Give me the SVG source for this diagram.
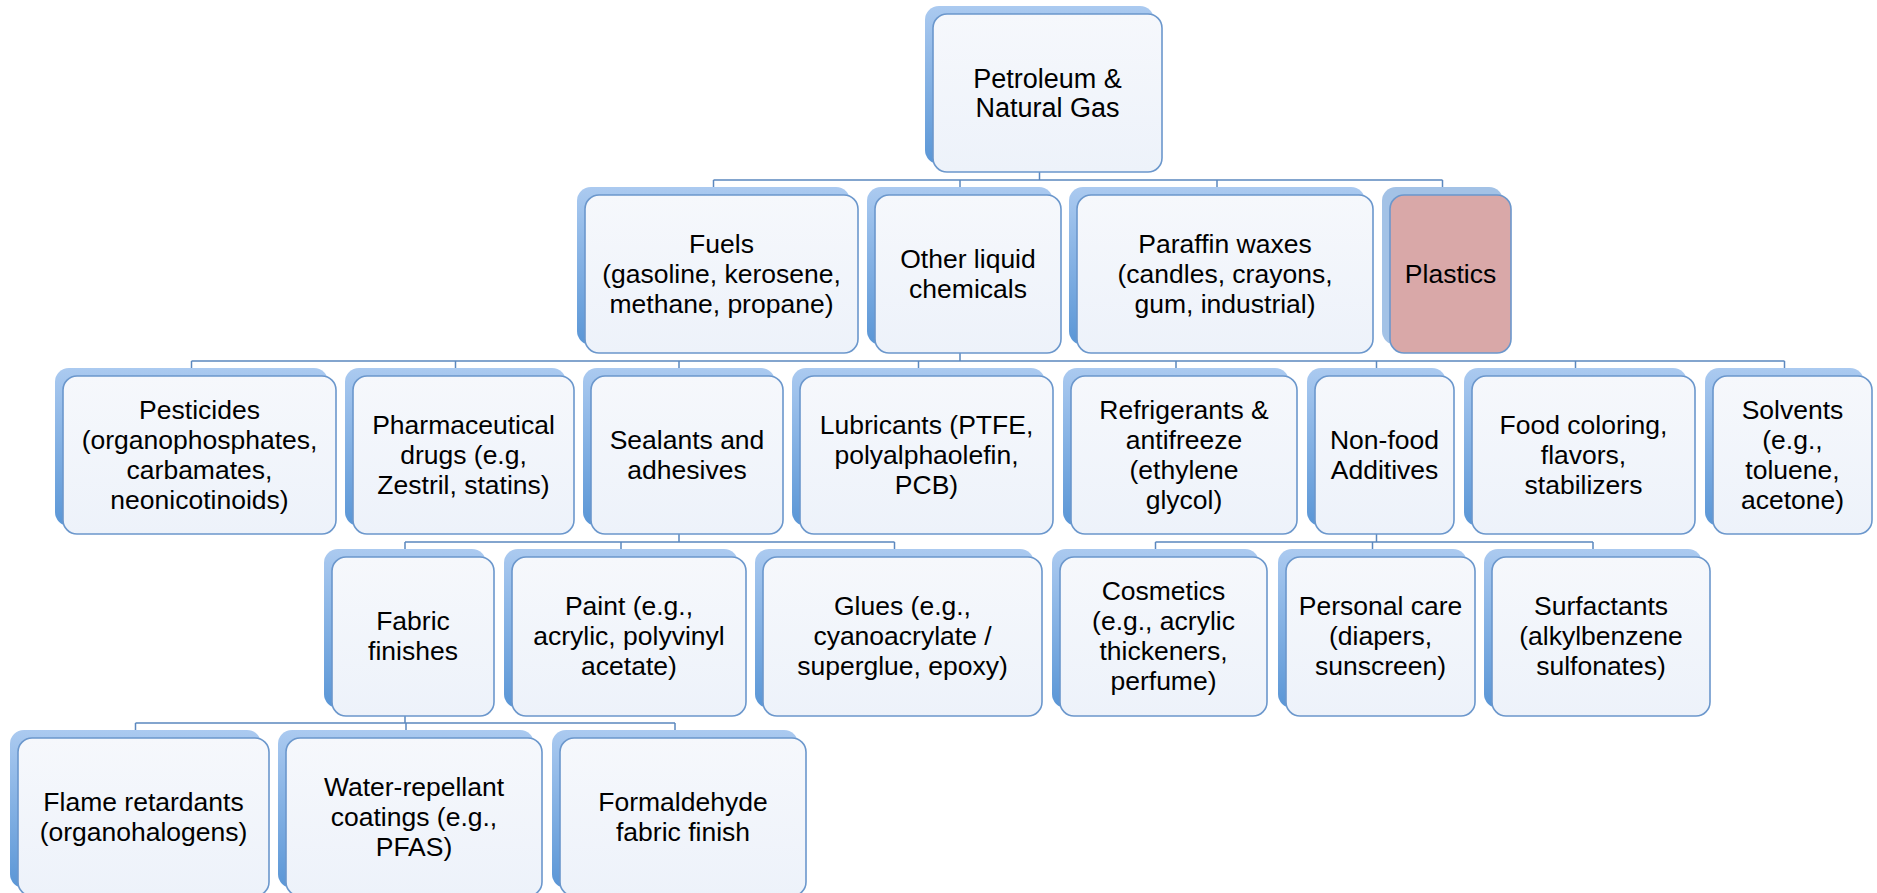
<svg xmlns="http://www.w3.org/2000/svg" width="1877" height="893" viewBox="0 0 1877 893">
<defs>
<linearGradient id="back" x1="0" y1="0" x2="0" y2="1">
<stop offset="0" stop-color="#abcaf0"/>
<stop offset="1" stop-color="#5a96d6"/>
</linearGradient>
<linearGradient id="front" x1="0" y1="0" x2="0" y2="1">
<stop offset="0" stop-color="#f6f8fc"/>
<stop offset="1" stop-color="#edf2fa"/>
</linearGradient>
<style>
.bk{fill:url(#back);}
.fr{fill:url(#front);stroke:#6b97cc;stroke-width:1.6;}
.pl{fill:#d9a8a8;stroke:#6b97cc;stroke-width:1.6;}
.bkp{fill:#a3c2e6;}
.t{font-family:"Liberation Sans",Arial,sans-serif;font-size:26.5px;fill:#000;text-anchor:middle;}
.tr{font-size:27px;}
.c{fill:none;stroke:#5b88bf;stroke-width:1.5;}
</style>
</defs>
<rect width="1877" height="893" fill="#ffffff"/>
<g id="connectors">
<path class="c" d="M1039.5,172V180M713.5,180H1442.5M713.5,180V187M960,180V187M1217,180V187M1442.5,180V187"/>
<path class="c" d="M960,353V361M191.5,361H1784.5M191.5,361V368M455.5,361V368M679,361V368M918.5,361V368M1176,361V368M1376.5,361V368M1575.5,361V368M1784.5,361V368"/>
<path class="c" d="M679,534V542M405,542H894.5M405,542V549M621,542V549M894.5,542V549"/>
<path class="c" d="M1376.5,534V542M1155.5,542H1593M1155.5,542V549M1372.5,542V549M1593,542V549"/>
<path class="c" d="M405,716V723M135.5,723H675M135.5,723V730M406,723V730M675,723V730"/>
</g>
<g id="root">
<rect class="bk" x="925" y="6" width="229" height="158" rx="14"/>
<rect class="fr" x="933" y="14" width="229" height="158" rx="14"/>
<text class="t tr"><tspan x="1047.5" y="88">Petroleum &amp;</tspan><tspan x="1047.5" y="117">Natural Gas</tspan></text>
</g>
<g id="fuels">
<rect class="bk" x="577" y="187" width="273" height="158" rx="14"/>
<rect class="fr" x="585" y="195" width="273" height="158" rx="14"/>
<text class="t"><tspan x="721.5" y="253">Fuels</tspan><tspan x="721.5" y="283">(gasoline, kerosene,</tspan><tspan x="721.5" y="313">methane, propane)</tspan></text>
</g>
<g id="other-liquid">
<rect class="bk" x="867" y="187" width="186" height="158" rx="14"/>
<rect class="fr" x="875" y="195" width="186" height="158" rx="14"/>
<text class="t"><tspan x="968" y="268">Other liquid</tspan><tspan x="968" y="298">chemicals</tspan></text>
</g>
<g id="paraffin">
<rect class="bk" x="1069" y="187" width="296" height="158" rx="14"/>
<rect class="fr" x="1077" y="195" width="296" height="158" rx="14"/>
<text class="t"><tspan x="1225" y="253">Paraffin waxes</tspan><tspan x="1225" y="283">(candles, crayons,</tspan><tspan x="1225" y="313">gum, industrial)</tspan></text>
</g>
<g id="plastics">
<rect class="bkp" x="1382" y="187" width="121" height="158" rx="14"/>
<rect class="pl" x="1390" y="195" width="121" height="158" rx="14"/>
<text class="t"><tspan x="1450.5" y="283">Plastics</tspan></text>
</g>
<g id="pesticides">
<rect class="bk" x="55" y="368" width="273" height="158" rx="14"/>
<rect class="fr" x="63" y="376" width="273" height="158" rx="14"/>
<text class="t"><tspan x="199.5" y="419">Pesticides</tspan><tspan x="199.5" y="449">(organophosphates,</tspan><tspan x="199.5" y="479">carbamates,</tspan><tspan x="199.5" y="509">neonicotinoids)</tspan></text>
</g>
<g id="pharma">
<rect class="bk" x="345" y="368" width="221" height="158" rx="14"/>
<rect class="fr" x="353" y="376" width="221" height="158" rx="14"/>
<text class="t"><tspan x="463.5" y="434">Pharmaceutical</tspan><tspan x="463.5" y="464">drugs (e.g,</tspan><tspan x="463.5" y="494">Zestril, statins)</tspan></text>
</g>
<g id="sealants">
<rect class="bk" x="583" y="368" width="192" height="158" rx="14"/>
<rect class="fr" x="591" y="376" width="192" height="158" rx="14"/>
<text class="t"><tspan x="687" y="449">Sealants and</tspan><tspan x="687" y="479">adhesives</tspan></text>
</g>
<g id="lubricants">
<rect class="bk" x="792" y="368" width="253" height="158" rx="14"/>
<rect class="fr" x="800" y="376" width="253" height="158" rx="14"/>
<text class="t"><tspan x="926.5" y="434">Lubricants (PTFE,</tspan><tspan x="926.5" y="464">polyalphaolefin,</tspan><tspan x="926.5" y="494">PCB)</tspan></text>
</g>
<g id="refrigerants">
<rect class="bk" x="1063" y="368" width="226" height="158" rx="14"/>
<rect class="fr" x="1071" y="376" width="226" height="158" rx="14"/>
<text class="t"><tspan x="1184" y="419">Refrigerants &amp;</tspan><tspan x="1184" y="449">antifreeze</tspan><tspan x="1184" y="479">(ethylene</tspan><tspan x="1184" y="509">glycol)</tspan></text>
</g>
<g id="non-food">
<rect class="bk" x="1307" y="368" width="139" height="158" rx="14"/>
<rect class="fr" x="1315" y="376" width="139" height="158" rx="14"/>
<text class="t"><tspan x="1384.5" y="449">Non-food</tspan><tspan x="1384.5" y="479">Additives</tspan></text>
</g>
<g id="food">
<rect class="bk" x="1464" y="368" width="223" height="158" rx="14"/>
<rect class="fr" x="1472" y="376" width="223" height="158" rx="14"/>
<text class="t"><tspan x="1583.5" y="434">Food coloring,</tspan><tspan x="1583.5" y="464">flavors,</tspan><tspan x="1583.5" y="494">stabilizers</tspan></text>
</g>
<g id="solvents">
<rect class="bk" x="1705" y="368" width="159" height="158" rx="14"/>
<rect class="fr" x="1713" y="376" width="159" height="158" rx="14"/>
<text class="t"><tspan x="1792.5" y="419">Solvents</tspan><tspan x="1792.5" y="449">(e.g.,</tspan><tspan x="1792.5" y="479">toluene,</tspan><tspan x="1792.5" y="509">acetone)</tspan></text>
</g>
<g id="fabric">
<rect class="bk" x="324" y="549" width="162" height="159" rx="14"/>
<rect class="fr" x="332" y="557" width="162" height="159" rx="14"/>
<text class="t"><tspan x="413" y="630">Fabric</tspan><tspan x="413" y="660">finishes</tspan></text>
</g>
<g id="paint">
<rect class="bk" x="504" y="549" width="234" height="159" rx="14"/>
<rect class="fr" x="512" y="557" width="234" height="159" rx="14"/>
<text class="t"><tspan x="629" y="615">Paint (e.g.,</tspan><tspan x="629" y="645">acrylic, polyvinyl</tspan><tspan x="629" y="675">acetate)</tspan></text>
</g>
<g id="glues">
<rect class="bk" x="755" y="549" width="279" height="159" rx="14"/>
<rect class="fr" x="763" y="557" width="279" height="159" rx="14"/>
<text class="t"><tspan x="902.5" y="615">Glues (e.g.,</tspan><tspan x="902.5" y="645">cyanoacrylate /</tspan><tspan x="902.5" y="675">superglue, epoxy)</tspan></text>
</g>
<g id="cosmetics">
<rect class="bk" x="1052" y="549" width="207" height="159" rx="14"/>
<rect class="fr" x="1060" y="557" width="207" height="159" rx="14"/>
<text class="t"><tspan x="1163.5" y="600">Cosmetics</tspan><tspan x="1163.5" y="630">(e.g., acrylic</tspan><tspan x="1163.5" y="660">thickeners,</tspan><tspan x="1163.5" y="690">perfume)</tspan></text>
</g>
<g id="personal-care">
<rect class="bk" x="1278" y="549" width="189" height="159" rx="14"/>
<rect class="fr" x="1286" y="557" width="189" height="159" rx="14"/>
<text class="t"><tspan x="1380.5" y="615">Personal care</tspan><tspan x="1380.5" y="645">(diapers,</tspan><tspan x="1380.5" y="675">sunscreen)</tspan></text>
</g>
<g id="surfactants">
<rect class="bk" x="1484" y="549" width="218" height="159" rx="14"/>
<rect class="fr" x="1492" y="557" width="218" height="159" rx="14"/>
<text class="t"><tspan x="1601" y="615">Surfactants</tspan><tspan x="1601" y="645">(alkylbenzene</tspan><tspan x="1601" y="675">sulfonates)</tspan></text>
</g>
<g id="flame">
<rect class="bk" x="10" y="730" width="251" height="158" rx="14"/>
<rect class="fr" x="18" y="738" width="251" height="158" rx="14"/>
<text class="t"><tspan x="143.5" y="811">Flame retardants</tspan><tspan x="143.5" y="841">(organohalogens)</tspan></text>
</g>
<g id="water">
<rect class="bk" x="278" y="730" width="256" height="158" rx="14"/>
<rect class="fr" x="286" y="738" width="256" height="158" rx="14"/>
<text class="t"><tspan x="414" y="796">Water-repellant</tspan><tspan x="414" y="826">coatings (e.g.,</tspan><tspan x="414" y="856">PFAS)</tspan></text>
</g>
<g id="formaldehyde">
<rect class="bk" x="552" y="730" width="246" height="158" rx="14"/>
<rect class="fr" x="560" y="738" width="246" height="158" rx="14"/>
<text class="t"><tspan x="683" y="811">Formaldehyde</tspan><tspan x="683" y="841">fabric finish</tspan></text>
</g>
</svg>
